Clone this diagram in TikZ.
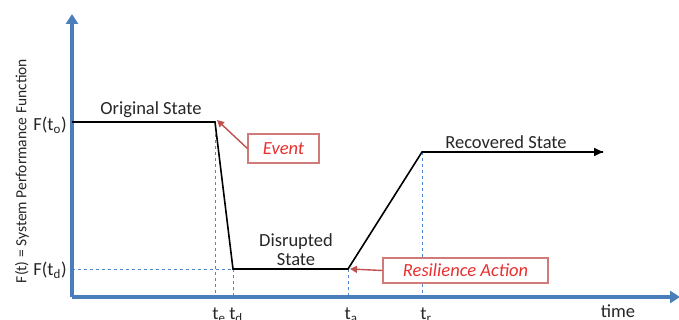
\documentclass[tikz,border=0pt]{standalone}
\usepackage{fontspec}
\setmainfont{Carlito}
\usetikzlibrary{arrows.meta}
\definecolor{axisblue}{HTML}{4A7EBB}
\definecolor{boxred}{HTML}{D07A7A}
\definecolor{txtred}{HTML}{E8302F}
\definecolor{arrred}{HTML}{C0504D}
\definecolor{guide}{HTML}{4F86D0}
\begin{document}
\begin{tikzpicture}[x=1pt,y=-1pt,
  axis/.style={draw=axisblue,line width=3.5pt,-{Triangle[length=10pt,width=12pt]}},
  curve/.style={draw=black,line width=1.6pt},
  guideline/.style={draw=guide,line width=1pt,dash pattern=on 3pt off 3pt},
  callout/.style={draw=boxred,line width=1.2pt,fill=white,text=txtred,font=\fontsize{18.5}{21}\selectfont\itshape,inner xsep=6pt,inner ysep=3pt},
  callarrow/.style={draw=arrred,line width=1.4pt,-{Triangle[length=7pt,width=7pt]}},
  lbl/.style={font=\fontsize{18.5}{19}\selectfont,text=black!85,inner sep=0pt},
  ticklbl/.style={font=\fontsize{18.5}{21}\selectfont,text=black!85,inner sep=0pt}]
\useasboundingbox (0,0) rectangle (679,320);
% coordinates
\coordinate (O) at (72,297);
\coordinate (ytip) at (72,14);
\coordinate (xtip) at (680,297);
\coordinate (p0) at (72,122);
\coordinate (p1) at (215,122);
\coordinate (p2) at (233,269);
\coordinate (p3) at (348,269);
\coordinate (p4) at (422,152);
\coordinate (p5) at (603,152);
\coordinate (b1) at (215,297);
\coordinate (b2) at (233,297);
\coordinate (b3) at (348,297);
\coordinate (b4) at (422,297);
\coordinate (yd) at (72,269);
% guides
\draw[guideline] (p1) -- (b1);
\draw[guideline] (p2) -- (b2);
\draw[guideline] (p3) -- (b3);
\draw[guideline] (p4) -- (b4);
\draw[guideline] (yd) -- (p2);
% axes
\draw[axis] (O) -- (ytip);
\draw[axis] (O) -- (xtip);
% curve
\draw[curve] (p0) -- (p1) -- (p2) -- (p3) -- (p4) -- (p5);
\draw[curve,-{Triangle[length=9pt,width=8pt]}] (p4) -- (p5);
% labels
\node[lbl] (orig) at (151,110) {Original State};
\node[lbl,align=center] (disr) at (296,250) {Disrupted\\State};
\node[lbl] (rec) at (506,142) {Recovered State};
\node[lbl] (time) at (618,311) {time};
\node[lbl] (f0) at (50,125) {F(t\textsubscript{o})};
\node[lbl] (fd) at (50,270) {F(t\textsubscript{d})};
\node[lbl,rotate=90,font=\fontsize{15.5}{17}\selectfont] (ylab) at (22,171) {F(t) = System Performance Function};
\node[ticklbl] (te) at (219,315) {t\textsubscript{e}};
\node[ticklbl] (td) at (236,315) {t\textsubscript{d}};
\node[ticklbl] (ta) at (351,315) {t\textsubscript{a}};
\node[ticklbl] (tr) at (426,315) {t\textsubscript{r}};
% callouts
\node[callout,minimum width=71pt,minimum height=29pt] (event) at (283.5,148.5) {Event};
\node[callout,minimum width=165pt,minimum height=25pt] (resil) at (465.5,270.5) {Resilience Action};
\draw[callarrow] (event.west) -- ([xshift=2pt,yshift=2pt]p1);
\draw[callarrow] (resil.west) -- ([xshift=2pt]p3);
\end{tikzpicture}
\end{document}
